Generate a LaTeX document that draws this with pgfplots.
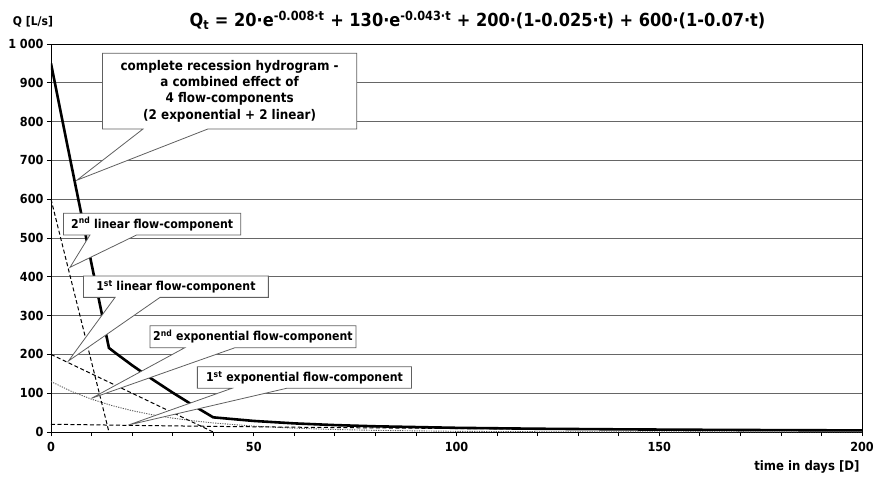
\documentclass[border=0pt]{standalone}
\usepackage{fontspec}
\setmainfont{DejaVu Sans Condensed}
\usepackage{pgfplots}
\pgfplotsset{compat=1.18}
\begin{document}
\begin{tikzpicture}
\useasboundingbox (-51pt,-44pt) rectangle (826pt,432pt);
\begin{axis}[
  scale only axis, width=811pt, height=388pt,
  at={(0pt,0pt)}, anchor=south west,
  xmin=0, xmax=200, ymin=0, ymax=1000,
  xtick={0,50,...,200}, minor xtick={0,10,...,200},
  ytick={0,100,...,1000},
  yticklabels={0,100,200,300,400,500,600,700,800,900,1 000},
  xticklabels={0,50,100,150,200},
  /pgf/number format/assume math mode=true,
  tick label style={font=\bfseries\fontsize{12.5}{14}\selectfont},
  xticklabel style={yshift=-3pt},
  tick align=outside, major tick length=4pt, minor tick length=4pt,
  xtick pos=bottom, ytick pos=left,
  ymajorgrids, grid style={gray!80!black, line width=0.9pt},
  axis line style={black, line width=0.9pt},
  every tick/.style={black, line width=0.8pt},
]
\addplot[gray!70!black, dash pattern=on 1.2pt off 1.2pt, line width=0.9pt] coordinates {
(0,130)(5,104.8)(10,84.6)(15,68.2)(20,55.0)(25,44.4)(30,35.8)(35,28.9)(40,23.3)(50,15.1)(60,9.85)(70,6.41)(80,4.17)(100,1.76)(120,0.75)(150,0.21)(200,0.02)};
\addplot[black, dash pattern=on 4pt off 2.5pt, line width=1pt] coordinates {
(0,20)(20,17.04)(40,14.52)(60,12.38)(80,10.55)(100,8.99)(120,7.66)(140,6.53)(160,5.56)(180,4.74)(200,4.04)};
\addplot[black, dash pattern=on 4pt off 2.5pt, line width=1pt] coordinates {(0,600)(14.29,0)};
\addplot[black, dash pattern=on 4pt off 2.5pt, line width=1pt] coordinates {(0,200)(40,0)};
\addplot[black, line width=2.6pt] coordinates {
(0,950)(2,845.0)(4,740.9)(6,637.6)(8,534.9)(10,433.1)(12,331.8)(14,231.1)(14.29,216.7)(16,202.9)(20,172.0)(25,135.8)(30,101.5)(35,69.0)(40,37.8)(50,28.5)(60,22.2)(70,17.8)(80,14.7)(100,10.75)(120,8.4)(140,6.85)(160,5.7)(180,4.8)(200,4.06)};

\tikzset{callout/.style={fill=white, draw=gray!75!black, line width=0.8pt, line join=miter},
  ctext/.style={font=\bfseries\fontsize{12.2}{15}\selectfont, align=center}}
% box 1
\draw[callout] (axis cs:12.7,976) -- (axis cs:75.4,976) -- (axis cs:75.4,781) -- (axis cs:38.7,781) -- (axis cs:6.4,649) -- (axis cs:22.7,781) -- (axis cs:12.7,781) -- cycle;
\node[ctext, font=\bfseries\fontsize{13.3}{16.3}\selectfont] at (axis cs:44.05,878.5) {complete recession hydrogram -\\a combined effect of\\4 flow-components\\(2 exponential + 2 linear)};
% box 2
\draw[callout] (axis cs:3.1,563.7) -- (axis cs:46.8,563.7) -- (axis cs:46.8,507.7) -- (axis cs:21.1,507.7) -- (axis cs:4.7,424.5) -- (axis cs:9.6,507.7) -- (axis cs:3.1,507.7) -- cycle;
\node[ctext] at (axis cs:24.95,535.7) {2\textsuperscript{nd} linear flow-component};
% box 3
\draw[callout] (axis cs:8.0,402) -- (axis cs:53.6,402) -- (axis cs:53.6,347) -- (axis cs:26.9,347) -- (axis cs:4.3,183) -- (axis cs:15.8,347) -- (axis cs:8.0,347) -- cycle;
\node[ctext] at (axis cs:30.8,374.5) {1\textsuperscript{st} linear flow-component};
% box 4
\draw[callout] (axis cs:24.4,274) -- (axis cs:75.2,274) -- (axis cs:75.2,217.3) -- (axis cs:45.4,217.3) -- (axis cs:10.0,86.9) -- (axis cs:33.0,217.3) -- (axis cs:24.4,217.3) -- cycle;
\node[ctext] at (axis cs:49.8,245.6) {2\textsuperscript{nd} exponential flow-component};
% box 5
\draw[callout] (axis cs:36.1,168.3) -- (axis cs:88.9,168.3) -- (axis cs:88.9,112.6) -- (axis cs:58.1,112.6) -- (axis cs:19.1,18) -- (axis cs:44.6,112.6) -- (axis cs:36.1,112.6) -- cycle;
\node[ctext] at (axis cs:62.5,140.4) {1\textsuperscript{st} exponential flow-component};
\end{axis}
\node[font=\bfseries\fontsize{18}{21}\selectfont] at (426.5pt,412pt) {Q\textsubscript{t} = 20·e\textsuperscript{-0.008·t} + 130·e\textsuperscript{-0.043·t} + 200·(1-0.025·t) + 600·(1-0.07·t)};
\node[font=\bfseries\fontsize{12}{14}\selectfont] at (-18pt,410pt) {Q [L/s]};
\node[font=\bfseries\fontsize{13}{15}\selectfont, anchor=east] at (812pt,-35pt) {time in days [D]};
\end{tikzpicture}
\end{document}
